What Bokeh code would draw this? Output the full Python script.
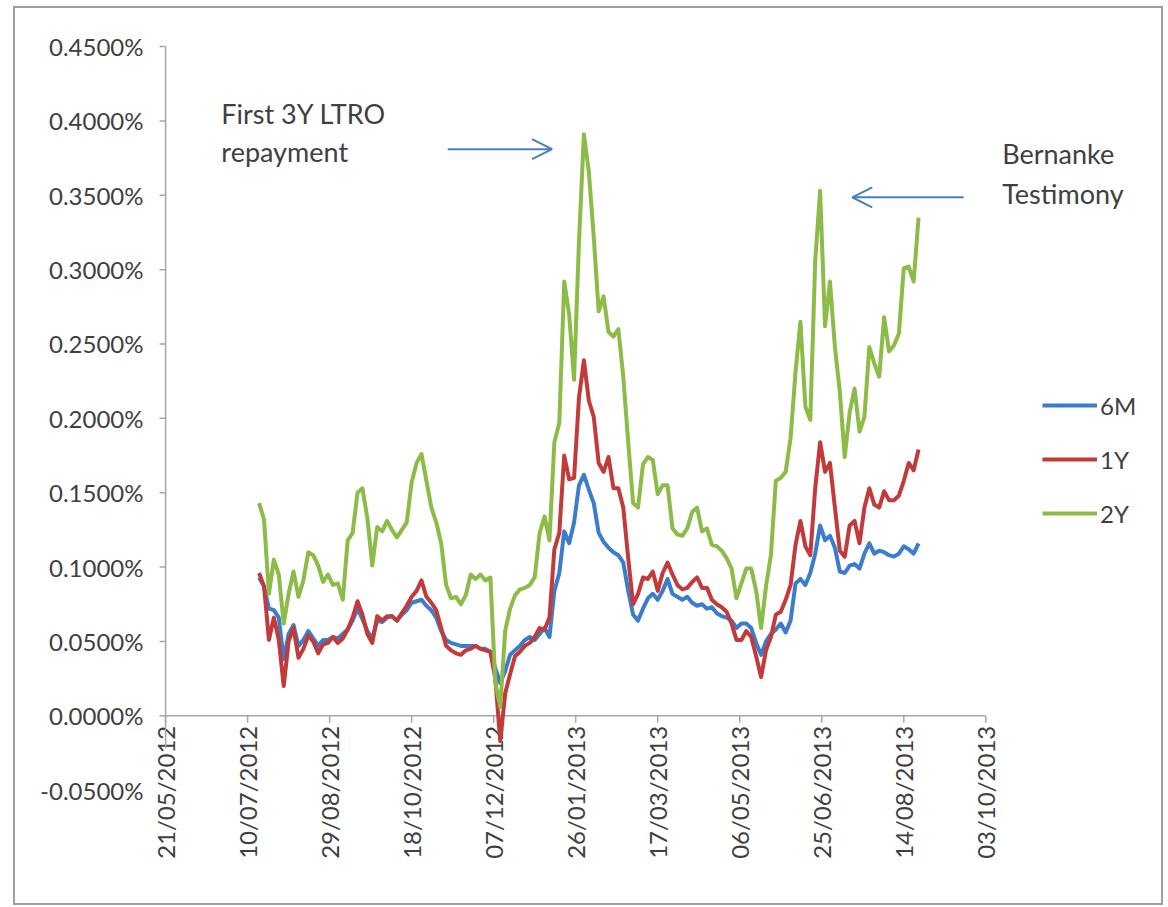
import numpy as np
import pandas as pd
from bokeh.plotting import figure
from bokeh.models import (Range1d, LinearAxis, FixedTicker, PrintfTickFormatter,
                          Legend, LegendItem, Arrow, OpenHead)
from bokeh.core.properties import value
from bokeh.embed import file_html
from bokeh.resources import INLINE

# ---------------- data (values in %) ----------------
first_date = "2012-07-17"   # first observation
step_days = 3               # observations read every 3 days

six_m = [
    0.093, 0.087, 0.072, 0.071, 0.066, 0.038, 0.055, 0.061, 0.047, 0.051,
    0.057, 0.052, 0.047, 0.051, 0.051, 0.053, 0.052, 0.055, 0.058, 0.064,
    0.072, 0.065, 0.057, 0.052, 0.064, 0.063, 0.066, 0.067, 0.064, 0.068,
    0.071, 0.076, 0.077, 0.078, 0.074, 0.071, 0.066, 0.057, 0.051, 0.049,
    0.048, 0.047, 0.047, 0.047, 0.047, 0.045, 0.045, 0.043, 0.032, 0.022,
    0.030, 0.041, 0.044, 0.047, 0.051, 0.053, 0.051, 0.055, 0.059, 0.053,
    0.084, 0.096, 0.124, 0.116, 0.130, 0.155, 0.162, 0.152, 0.143, 0.123,
    0.117, 0.113, 0.110, 0.108, 0.103, 0.084, 0.068, 0.064, 0.072, 0.079,
    0.082, 0.078, 0.084, 0.092, 0.082, 0.080, 0.078, 0.080, 0.076, 0.074,
    0.075, 0.072, 0.073, 0.069, 0.067, 0.066, 0.064, 0.059, 0.062, 0.062,
    0.059, 0.049, 0.041, 0.050, 0.055, 0.058, 0.062, 0.056, 0.064, 0.089,
    0.092, 0.088, 0.096, 0.109, 0.128, 0.118, 0.121, 0.113, 0.097, 0.096,
    0.101, 0.102, 0.099, 0.109, 0.116, 0.109, 0.111, 0.110, 0.108, 0.107,
    0.109, 0.114, 0.112, 0.109, 0.116,
]

one_y = [
    0.096, 0.087, 0.051, 0.066, 0.051, 0.020, 0.050, 0.059, 0.039, 0.045,
    0.054, 0.050, 0.042, 0.048, 0.049, 0.053, 0.049, 0.052, 0.058, 0.066,
    0.077, 0.068, 0.055, 0.049, 0.067, 0.064, 0.067, 0.067, 0.064, 0.069,
    0.074, 0.080, 0.084, 0.091, 0.080, 0.076, 0.071, 0.059, 0.047, 0.044,
    0.042, 0.041, 0.044, 0.045, 0.047, 0.045, 0.044, 0.043, 0.025, -0.017,
    0.015, 0.028, 0.040, 0.043, 0.047, 0.049, 0.053, 0.059, 0.058, 0.066,
    0.112, 0.123, 0.175, 0.159, 0.160, 0.214, 0.239, 0.212, 0.201, 0.170,
    0.164, 0.174, 0.153, 0.153, 0.140, 0.106, 0.075, 0.082, 0.093, 0.092,
    0.097, 0.084, 0.096, 0.103, 0.095, 0.088, 0.085, 0.086, 0.090, 0.093,
    0.086, 0.086, 0.078, 0.075, 0.073, 0.070, 0.062, 0.051, 0.051, 0.057,
    0.053, 0.040, 0.026, 0.044, 0.053, 0.068, 0.070, 0.078, 0.088, 0.115,
    0.131, 0.114, 0.108, 0.153, 0.184, 0.164, 0.170, 0.140, 0.111, 0.107,
    0.128, 0.131, 0.116, 0.140, 0.153, 0.142, 0.140, 0.151, 0.145, 0.145,
    0.148, 0.158, 0.170, 0.165, 0.179,
]

two_y = [
    0.143, 0.132, 0.082, 0.105, 0.095, 0.062, 0.082, 0.097, 0.080, 0.091,
    0.110, 0.108, 0.101, 0.090, 0.095, 0.088, 0.089, 0.078, 0.118, 0.123,
    0.150, 0.153, 0.133, 0.101, 0.127, 0.124, 0.131, 0.125, 0.120, 0.125,
    0.130, 0.157, 0.170, 0.176, 0.158, 0.140, 0.130, 0.116, 0.088, 0.079,
    0.080, 0.075, 0.081, 0.095, 0.092, 0.095, 0.091, 0.093, 0.022, 0.006,
    0.057, 0.072, 0.081, 0.085, 0.086, 0.088, 0.093, 0.123, 0.134, 0.118,
    0.184, 0.197, 0.292, 0.270, 0.226, 0.319, 0.391, 0.366, 0.322, 0.272,
    0.282, 0.258, 0.255, 0.260, 0.228, 0.184, 0.143, 0.140, 0.169, 0.174,
    0.172, 0.149, 0.155, 0.155, 0.126, 0.122, 0.121, 0.126, 0.137, 0.140,
    0.124, 0.126, 0.115, 0.114, 0.111, 0.106, 0.099, 0.079, 0.089, 0.099,
    0.099, 0.084, 0.059, 0.087, 0.108, 0.158, 0.160, 0.164, 0.187, 0.231,
    0.265, 0.208, 0.199, 0.306, 0.353, 0.262, 0.292, 0.248, 0.218, 0.174,
    0.204, 0.220, 0.191, 0.201, 0.248, 0.237, 0.228, 0.268, 0.245, 0.249,
    0.257, 0.301, 0.302, 0.292, 0.335,
]

series_names = ["6M", "1Y", "2Y"]
series_colors = ["#3B7DCC", "#C23A3A", "#8DBB48"]

x_tick_labels = ["21/05/2012", "10/07/2012", "29/08/2012", "18/10/2012",
                 "07/12/2012", "26/01/2013", "17/03/2013", "06/05/2013",
                 "25/06/2013", "14/08/2013", "03/10/2013"]
y_ticks = [-0.05, 0.0, 0.05, 0.10, 0.15, 0.20, 0.25, 0.30, 0.35, 0.40, 0.45]

annotation_1 = ["First 3Y LTRO", "repayment"]
annotation_2 = ["Bernanke", "Testimony"]

# ---------------- figure ----------------
dates = pd.date_range(first_date, periods=len(two_y), freq=f"{step_days}D")
x_ticks = pd.to_datetime(x_tick_labels, format="%d/%m/%Y")
x_origin = x_ticks[0]                       # vertical axis crosses here
tick_len = pd.Timedelta(hours=88)           # ~6 px tick marks

TXT = "#404040"
AX = "#a6a6a6"
FONT = "Lato"

p = figure(width=1150, height=899, output_backend="svg", toolbar_location=None,
           x_range=Range1d(pd.Timestamp("2012-05-10 14:00"), pd.Timestamp("2014-01-18 17:00")),
           y_range=Range1d(-0.1, 0.4608),
           x_axis_location=None, y_axis_location=None,
           min_border_left=133, min_border_right=3, min_border_top=22, min_border_bottom=43)
p.outline_line_color = None
p.grid.visible = False
p.background_fill_color = "white"
p.styles = {"border": "2px solid #a0a0a0", "margin-left": "13px", "margin-top": "6px"}

# vertical axis labels (line and ticks drawn at the first tick date below)
yax = LinearAxis(ticker=FixedTicker(ticks=y_ticks),
                 formatter=PrintfTickFormatter(format="%.4f%%"))
yax.axis_line_color = None
yax.major_tick_line_color = None
yax.major_tick_in = 0
yax.major_tick_out = 0
yax.minor_tick_line_color = None
yax.major_label_standoff = 5
yax.major_label_text_font = FONT
yax.major_label_text_font_size = "24px"
yax.major_label_text_color = TXT
p.add_layout(yax, "left")

# horizontal axis labels at zero
p.text(x=x_ticks, y=[0] * len(x_ticks), text=x_tick_labels, angle=np.pi / 2,
       text_align="right", text_baseline="middle", y_offset=10,
       text_font=value(FONT), text_font_size="24px", text_color=TXT)

# vertical axis line + ticks
p.segment(x0=[x_origin], y0=[-0.022], x1=[x_origin], y1=[0.45],
          line_color=AX, line_width=1.5)
yt = [t for t in y_ticks if t >= 0]
p.segment(x0=[x_origin - tick_len] * len(yt), y0=yt, x1=[x_origin] * len(yt), y1=yt,
          line_color=AX, line_width=1.5)

# horizontal axis line + ticks
p.segment(x0=[x_ticks[0]], y0=[0], x1=[x_ticks[-1]], y1=[0],
          line_color=AX, line_width=1.5)
p.segment(x0=x_ticks, y0=[0] * len(x_ticks), x1=x_ticks, y1=[-0.0047] * len(x_ticks),
          line_color=AX, line_width=1.5)

# series
renderers = []
for vals, col in zip([six_m, one_y, two_y], series_colors):
    r = p.line(x=dates, y=vals, line_color=col, line_width=4, line_join="round")
    renderers.append(r)

legend = Legend(items=[LegendItem(label=n, renderers=[r]) for n, r in zip(series_names, renderers)],
                location=(894, 336), orientation="vertical",
                glyph_width=55, glyph_height=30, label_standoff=3, spacing=24,
                padding=0, margin=0, border_line_color=None, background_fill_alpha=0,
                label_text_font=FONT, label_text_font_size="24px", label_text_color=TXT)
p.add_layout(legend)

# annotations
p.text(x=[pd.Timestamp("2012-06-24")] * 2, y=[0.405, 0.3794], text=annotation_1,
       text_align="left", text_baseline="middle",
       text_font=value(FONT), text_font_size="27px", text_color=TXT)
p.text(x=[pd.Timestamp("2013-10-13")] * 2, y=[0.378, 0.351], text=annotation_2,
       text_align="left", text_baseline="middle",
       text_font=value(FONT), text_font_size="27px", text_color=TXT)

ARROW = "#4A7EBB"
def ms(s):
    return pd.Timestamp(s).value / 1e6

p.add_layout(Arrow(end=OpenHead(size=20, line_color=ARROW, line_width=2),
                   x_start=ms("2012-11-09"), y_start=0.381,
                   x_end=ms("2013-01-11 14:00"), y_end=0.381,
                   line_color=ARROW, line_width=2))
p.add_layout(Arrow(end=OpenHead(size=20, line_color=ARROW, line_width=2),
                   x_start=ms("2013-09-19 12:00"), y_start=0.3486,
                   x_end=ms("2013-07-13 14:00"), y_end=0.3486,
                   line_color=ARROW, line_width=2))

open("out.html", "w").write(file_html(p, INLINE))
